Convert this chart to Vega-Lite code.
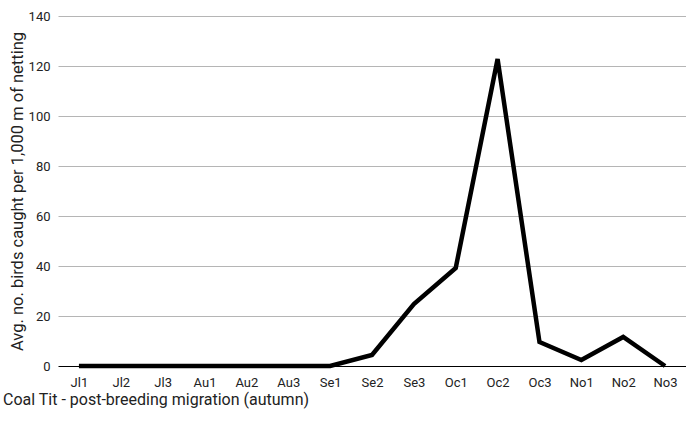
{
  "$schema": "https://vega.github.io/schema/vega-lite/v6.json",
  "width": 628,
  "height": 350,
  "autosize": {"type": "none"},
  "padding": {"left": 58, "top": 16, "right": 0, "bottom": 69},
  "background": "white",
  "config": {
    "view": {"stroke": null},
    "font": "Roboto",
    "axis": {"labelFont": "Roboto", "titleFont": "Roboto"}
  },
  "title": {
    "text": "Coal Tit - post-breeding migration (autumn)",
    "orient": "bottom",
    "anchor": "start",
    "frame": "group",
    "dx": -55,
    "offset": 3,
    "fontSize": 16,
    "fontWeight": "normal",
    "color": "#222222",
    "font": "Roboto"
  },
  "data": {
    "values": [
      {"period": "Jl1", "value": 0},
      {"period": "Jl2", "value": 0},
      {"period": "Jl3", "value": 0},
      {"period": "Au1", "value": 0},
      {"period": "Au2", "value": 0},
      {"period": "Au3", "value": 0},
      {"period": "Se1", "value": 0},
      {"period": "Se2", "value": 4.4},
      {"period": "Se3", "value": 24.8},
      {"period": "Oc1", "value": 39.2},
      {"period": "Oc2", "value": 122.8},
      {"period": "Oc3", "value": 9.6},
      {"period": "No1", "value": 2.4},
      {"period": "No2", "value": 11.6},
      {"period": "No3", "value": 0}
    ]
  },
  "mark": {"type": "line", "color": "black", "strokeWidth": 4.5, "strokeJoin": "miter"},
  "encoding": {
    "x": {
      "field": "period",
      "type": "ordinal",
      "sort": null,
      "scale": {"type": "point", "padding": 0.5},
      "axis": {
        "title": null,
        "labelAngle": 0,
        "ticks": false,
        "domain": false,
        "grid": false,
        "labelPadding": 10,
        "labelFontSize": 13,
        "labelColor": "#222222"
      }
    },
    "y": {
      "field": "value",
      "type": "quantitative",
      "scale": {"domain": [0, 140], "nice": false},
      "axis": {
        "title": "Avg. no. birds caught per 1,000 m of netting",
        "titleFontSize": 16.5,
        "titleFontWeight": "normal",
        "titleColor": "#222222",
        "titlePadding": 3,
        "values": [0, 20, 40, 60, 80, 100, 120, 140],
        "ticks": false,
        "domain": false,
        "labelPadding": 8,
        "labelFontSize": 13,
        "labelColor": "#222222",
        "gridColor": {"condition": {"test": "datum.value === 0", "value": "#000000"}, "value": "#b5b5b5"},
        "gridWidth": 1
      }
    }
  }
}
